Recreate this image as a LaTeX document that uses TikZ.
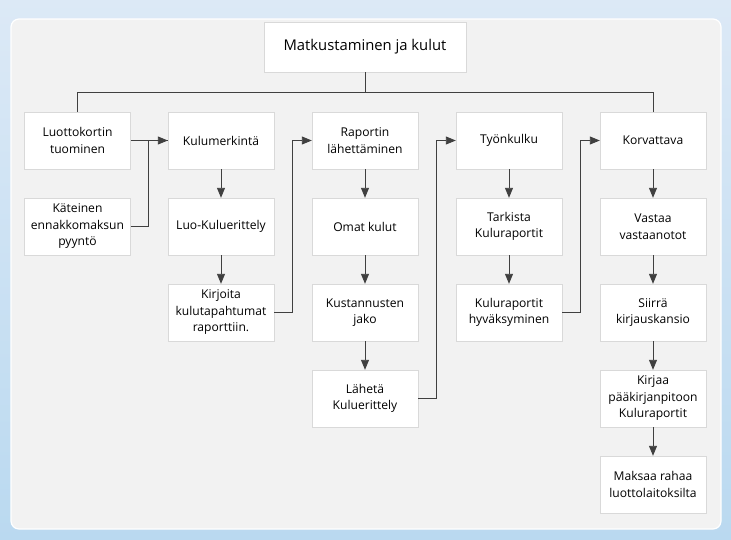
\documentclass[tikz,border=0pt]{standalone}
\usepackage{fontspec}
\setmainfont{Open Sans}
\usetikzlibrary{arrows.meta}
\definecolor{bgtop}{HTML}{DCE9F6}
\definecolor{bgbottom}{HTML}{BAD9F0}
\definecolor{panelgray}{HTML}{F2F2F2}
\definecolor{boxline}{HTML}{D9D9D9}
\definecolor{linegray}{HTML}{404040}

\begin{document}
\begin{tikzpicture}[x=1pt, y=-1pt,
  box/.style={draw=boxline, fill=white, minimum width=106pt, minimum height=57pt,
    inner sep=2pt, align=center, font=\fontsize{12.1}{16.5}\selectfont},
  link/.style={draw=linegray, line width=0.9pt},
  flow/.style={link, -{Triangle[length=10pt, width=8pt]}}]
\shade[top color=bgtop, bottom color=bgbottom] (0,0) rectangle (731,539);
\useasboundingbox (0,0) rectangle (731,539);
\draw[white, line width=1.2pt, fill=panelgray, rounded corners=8pt] (11,19) rectangle (721,529);

% title
\node[box, minimum width=202pt, minimum height=50pt, font=\fontsize{14.8}{18}\selectfont] (mat) at (365,47) {Matkustaminen ja kulut};

% first column
\node[box] (luo) at (77.5,140.5) {Luottokortin\\tuominen};
\node[box] (kat) at (77.5,226.5) {Käteinen\\ennakkomaksun\\pyyntö};
% second column
\node[box] (kum) at (221,140.5) {Kulumerkintä};
\node[box] (lku) at (221,226.5) {Luo-Kuluerittely};
\node[box] (kir) at (221,312.5) {Kirjoita\\kulutapahtumat\\raporttiin.};
% third column
\node[box] (rap) at (365,140.5) {Raportin\\lähettäminen};
\node[box] (oma) at (365,226.5) {Omat kulut};
\node[box] (kus) at (365,312.5) {Kustannusten\\jako};
\node[box] (lah) at (365,398.5) {Lähetä\\Kuluerittely};
% fourth column
\node[box] (tyo) at (509,140.5) {Työnkulku};
\node[box] (tar) at (509,226.5) {Tarkista\\Kuluraportit};
\node[box] (hyv) at (509,312.5) {Kuluraportit\\hyväksyminen};
% fifth column
\node[box] (kor) at (653,140.5) {Korvattava};
\node[box] (vas) at (653,226.5) {Vastaa\\vastaanotot};
\node[box] (sii) at (653,312.5) {Siirrä\\kirjauskansio};
\node[box] (pku) at (653,398.5) {Kirjaa\\pääkirjanpitoon\\Kuluraportit};
\node[box] (mak) at (653,484.5) {Maksaa rahaa\\luottolaitoksilta};

% top bus
\draw[link] (mat.south) -- ++(0,20) -| (luo.north);
\draw[link] (mat.south) -- ++(0,20) -| (kor.north);

% links between columns
\draw[flow] (luo) -- (kum);
\draw[link] (kat.east) -- ++(18,0) |- (kum.west);
\draw[flow] (kir.east) -- ++(18,0) |- (rap.west);
\draw[flow] (lah.east) -- ++(18,0) |- (tyo.west);
\draw[flow] (hyv.east) -- ++(18,0) |- (kor.west);

% links down the columns
\draw[flow] (kum) -- (lku);
\draw[flow] (lku) -- (kir);
\draw[flow] (rap) -- (oma);
\draw[flow] (oma) -- (kus);
\draw[flow] (kus) -- (lah);
\draw[flow] (tyo) -- (tar);
\draw[flow] (tar) -- (hyv);
\draw[flow] (kor) -- (vas);
\draw[flow] (vas) -- (sii);
\draw[flow] (sii) -- (pku);
\draw[flow] (pku) -- (mak);
\end{tikzpicture}
\end{document}
